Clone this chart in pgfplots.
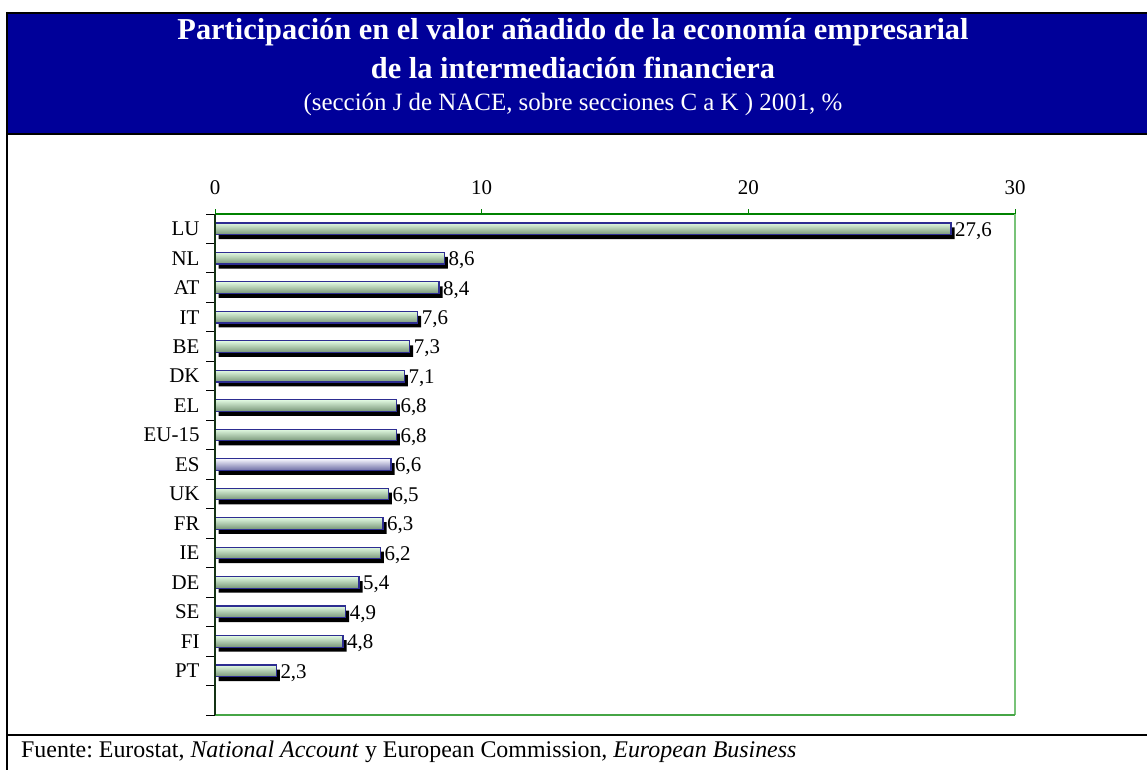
\documentclass[border=0pt]{standalone}
\usepackage{fontspec}
\setmainfont{Liberation Serif}
\usepackage{pgfplots}
\pgfplotsset{compat=1.18}
\definecolor{banner}{RGB}{0,0,153}
\definecolor{gtop}{RGB}{225,250,225}
\definecolor{gmid}{RGB}{185,230,185}
\definecolor{gbot}{RGB}{120,150,120}
\definecolor{ltop}{RGB}{248,248,255}
\definecolor{lbot}{RGB}{110,110,165}
\definecolor{bardraw}{RGB}{45,45,145}
\definecolor{axtop}{RGB}{0,130,0}
\definecolor{axright}{RGB}{120,195,120}
\definecolor{axbot}{RGB}{70,165,70}
\definecolor{axleft}{RGB}{20,50,20}
\frenchspacing
\pgfplotsset{
  gbar/.style={xbar, bar width=11.6bp, bar shift=0pt, draw=bardraw, line width=1.2bp,
    top color=gtop, middle color=gmid, bottom color=gbot},
  lbar/.style={xbar, bar width=11.6bp, bar shift=0pt, draw=bardraw, line width=1.2bp,
    top color=ltop, bottom color=lbot},
}
\begin{document}
\begin{tikzpicture}[x=1bp,y=1bp]
\useasboundingbox (0,0) rectangle (1147,-770);
\fill[banner] (7,-13) rectangle (1147,-134);
\draw[black, line width=2.2bp] (6,-13) -- (1147,-13);
\draw[black, line width=2.2bp] (6,-134) -- (1147,-134);
\draw[black, line width=2bp] (7,-12) -- (7,-770);
\node[white, font=\bfseries\fontsize{30.5}{33}\selectfont] at (573,-32) {Participación en el valor añadido de la economía empresarial};
\node[white, font=\bfseries\fontsize{30.5}{33}\selectfont] at (573,-68) {de la intermediación financiera};
\node[white, font=\fontsize{25}{28}\selectfont] at (573,-104) {(sección J de NACE, sobre secciones C a K ) 2001, \%};
\draw[black, line width=1.2bp] (7,-735) -- (1147,-735);
\draw[black, line width=2bp] (7,-735) -- (115,-735);
\draw[black, line width=2.5bp] (1055,-735) -- (1147,-735);
\node[anchor=base west, font=\fontsize{24}{28}\selectfont, inner sep=0pt] at (21,-757) {Fuente: Eurostat, \textit{National Account} y European Commission\textit{, European Business}};
\begin{axis}[
  at={(215bp,-715bp)}, anchor=south west,
  scale only axis, width=800bp, height=501bp,
  xmin=0, xmax=30, ymin=-0.5, ymax=16.5, y dir=reverse,
  /pgf/number format/assume math mode=true,
  axis line style={draw=none},
  tick align=outside,
  xtick={0,10,20,30}, xtick pos=right, xticklabel pos=right,
  major tick length=5bp,
  major x tick style={axtop, line width=1bp},
  xticklabel style={font=\fontsize{21}{24}\selectfont, yshift=11bp},
  ytick={0,...,15},
  yticklabels={LU,NL,AT,IT,BE,DK,EL,EU-15,ES,UK,FR,IE,DE,SE,FI,PT},
  ytick pos=left,
  major y tick style={draw=none},
  minor ytick={-0.5,0.5,...,16.5},
  minor tick length=9bp,
  minor y tick style={black, line width=1bp},
  yticklabel style={font=\fontsize{21}{24}\selectfont, xshift=-7bp},
  clip=false,
]
% shadows
\addplot[xbar, bar width=11.6bp, bar shift=0pt, fill=black, draw=none, xshift=3.5bp, yshift=-4.5bp]
coordinates {(27.6,0) (8.6,1) (8.4,2) (7.6,3) (7.3,4) (7.1,5) (6.8,6) (6.8,7) (6.6,8) (6.5,9) (6.3,10) (6.2,11) (5.4,12) (4.9,13) (4.8,14) (2.3,15)};
% main bars (one plot per bar so each has its own shading)
\addplot[gbar] coordinates {(27.6,0)};
\addplot[gbar] coordinates {(8.6,1)};
\addplot[gbar] coordinates {(8.4,2)};
\addplot[gbar] coordinates {(7.6,3)};
\addplot[gbar] coordinates {(7.3,4)};
\addplot[gbar] coordinates {(7.1,5)};
\addplot[gbar] coordinates {(6.8,6)};
\addplot[gbar] coordinates {(6.8,7)};
\addplot[lbar] coordinates {(6.6,8)};
\addplot[gbar] coordinates {(6.5,9)};
\addplot[gbar] coordinates {(6.3,10)};
\addplot[gbar] coordinates {(6.2,11)};
\addplot[gbar] coordinates {(5.4,12)};
\addplot[gbar] coordinates {(4.9,13)};
\addplot[gbar] coordinates {(4.8,14)};
\addplot[gbar] coordinates {(2.3,15)};
% labels
\addplot[draw=none, mark=none, point meta=x,
  nodes near coords={\pgfmathprintnumber[use comma,fixed,fixed zerofill,precision=1]{\pgfplotspointmeta}},
  every node near coord/.append style={anchor=west, xshift=3bp, yshift=-2bp, inner xsep=1bp, font=\fontsize{21}{24}\selectfont, black}]
coordinates {(27.6,0) (8.6,1) (8.4,2) (7.6,3) (7.3,4) (7.1,5) (6.8,6) (6.8,7) (6.6,8) (6.5,9) (6.3,10) (6.2,11) (5.4,12) (4.9,13) (4.8,14) (2.3,15)};
% axis frame
\draw[axtop, line width=1.5bp] (axis cs:0,-0.5) -- (axis cs:30,-0.5);
\draw[axright, line width=2.5bp] (axis cs:30,-0.5) -- (axis cs:30,16.5);
\draw[axbot, line width=2bp] (axis cs:0,16.5) -- (axis cs:30,16.5);
\draw[axleft, line width=1.5bp] (axis cs:0,-0.5) -- (axis cs:0,16.5);
\end{axis}
\end{tikzpicture}
\end{document}
